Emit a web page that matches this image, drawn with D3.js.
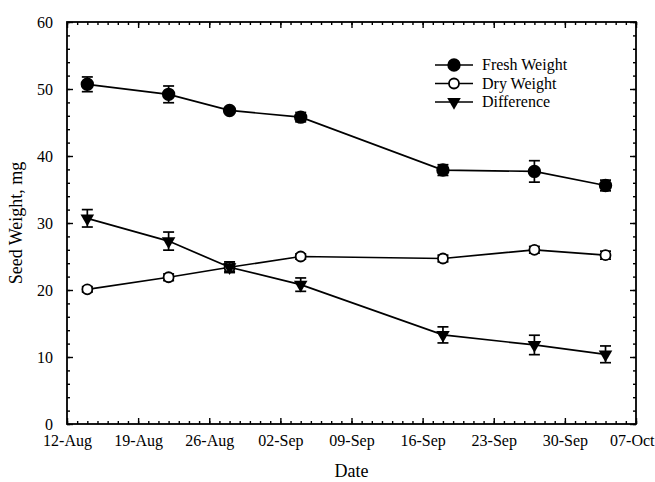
<!DOCTYPE html>
<html>
<head>
<meta charset="utf-8">
<script src="https://cdn.jsdelivr.net/npm/d3@7"></script>
<style>
  body { margin: 0; background: #fff; }
  svg text { font-family: "Liberation Serif", "DejaVu Serif", serif !important; fill: #000; }
</style>
</head>
<body>
<svg id="chart" width="655" height="482"></svg>
<script>
// sample dates and seed weights (mg)
var dates    = [ "2001-08-14", "2001-08-22", "2001-08-28", "2001-09-04", "2001-09-18", "2001-09-27", "2001-10-04" ];
var fresh    = [ 50.7, 49.2, 46.8, 45.8, 37.9, 37.7, 35.6 ];
var freshErr = [ 1.1, 1.25, 0.4, 0.7, 0.8, 1.6, 0.8 ];
var dry      = [ 20.1, 21.9, 23.4, 25.0, 24.7, 26.0, 25.2 ];
var dryErr   = [ 0.4, 0.5, 0.6, 0.4, 0.5, 0.5, 0.6 ];
var diff     = [ 30.7, 27.3, 23.4, 20.8, 13.3, 11.8, 10.4 ];
var diffErr  = [ 1.3, 1.35, 0.8, 1.0, 1.2, 1.45, 1.25 ];
var seriesNames = [ "Fresh Weight", "Dry Weight", "Difference" ];
var xStart = "2001-08-12", xEnd = "2001-10-07";
var yTicks = [ 0, 10, 20, 30, 40, 50, 60 ];

window.addEventListener( "load", makeChart );
function makeChart() {
    var parse = d3.timeParse( "%Y-%m-%d" );
    var fmt = d3.timeFormat( "%d-%b" );
    var t0 = parse( xStart ), t1 = parse( xEnd );

    var L = 67, R = 636, T = 22, B = 424;
    var x = d3.scaleTime().domain( [t0, t1] ).range( [L, R] );
    var y = d3.scaleLinear().domain( [0, 60] ).range( [B, T] );

    var svg = d3.select( "#chart" );

    var major = d3.range( 0, 57, 7 ).map( d=>d3.timeDay.offset(t0, d) );
    var minor = d3.timeDay.range( t0, d3.timeDay.offset(t1, 1) );
    var yMinor = d3.range( 0, 61, 2 );

    // inward ticks on all four sides
    function ticks( axis, tr ) {
        var g = svg.append( "g" ).attr( "transform", tr ).call( axis )
            .attr( "font-family", "Liberation Serif" ).attr( "font-size", 16 );
        g.select( ".domain" ).remove();
        g.selectAll( "line" ).attr( "stroke", "#000" ).attr( "stroke-width", 1.4 );
        return g;
    }
    ticks( d3.axisBottom(x).tickValues(minor).tickSize(-3).tickFormat(""), "translate(0,"+B+")" );
    ticks( d3.axisTop(x).tickValues(minor).tickSize(-3).tickFormat(""), "translate(0,"+T+")" );
    ticks( d3.axisTop(x).tickValues(major).tickSize(-6).tickFormat(""), "translate(0,"+T+")" );
    var xa = ticks( d3.axisBottom(x).tickValues(major).tickSize(-6).tickFormat(fmt).tickPadding(11),
                    "translate(0,"+B+")" );
    // last label would run off the edge; keep it inside like the original
    xa.selectAll( "text" ).filter( (d,i,n)=>i == n.length-1 )
        .attr( "text-anchor", "end" ).attr( "dx", 18 );

    ticks( d3.axisLeft(y).tickValues(yMinor).tickSize(-3).tickFormat(""), "translate("+L+",0)" );
    ticks( d3.axisRight(y).tickValues(yMinor).tickSize(-3).tickFormat(""), "translate("+R+",0)" );
    ticks( d3.axisRight(y).tickValues(yTicks).tickSize(-6).tickFormat(""), "translate("+R+",0)" );
    ticks( d3.axisLeft(y).tickValues(yTicks).tickSize(-6).tickPadding(14), "translate("+L+",0)" );

    svg.append( "rect" ).attr( "x", L ).attr( "y", T )
        .attr( "width", R-L ).attr( "height", B-T )
        .attr( "fill", "none" ).attr( "stroke", "#000" ).attr( "stroke-width", 1.8 );

    // axis titles
    svg.append( "text" ).attr( "x", (L+R)/2 ).attr( "y", 477 )
        .attr( "text-anchor", "middle" ).attr( "font-size", 18 ).text( "Date" );
    svg.append( "text" )
        .attr( "transform", "translate(22,"+((T+B)/2)+") rotate(-90)" )
        .attr( "text-anchor", "middle" ).attr( "font-size", 18 ).text( "Seed Weight, mg" );

    var tri = d3.symbol().type( d3.symbolTriangle ).size( 80 );
    var series = [
        { name: seriesNames[0], vals: fresh, err: freshErr, kind: "filled" },
        { name: seriesNames[1], vals: dry,   err: dryErr,   kind: "open" },
        { name: seriesNames[2], vals: diff,  err: diffErr,  kind: "tri" }
    ];

    function marker( g, kind ) {
        if( kind == "tri" )
            g.append( "path" ).attr( "d", tri ).attr( "transform", "rotate(180)" ).attr( "fill", "#000" );
        else
            g.append( "circle" ).attr( "r", kind == "open" ? 5 : 5.8 )
                .attr( "fill", kind == "open" ? "#fff" : "#000" )
                .attr( "stroke", "#000" ).attr( "stroke-width", 1.8 );
    }

    var line = d3.line().x( d=>x(d.t) ).y( d=>y(d.v) );

    series.forEach( function(s) {
        var pts = s.vals.map( (v,i)=>({ t: parse(dates[i]), v: v, e: s.err[i] }) );
        var g = svg.append( "g" );

        g.append( "path" ).datum( pts ).attr( "d", line )
            .attr( "fill", "none" ).attr( "stroke", "#000" ).attr( "stroke-width", 1.7 );

        var eb = g.selectAll( "g.eb" ).data( pts ).enter().append( "g" )
            .attr( "stroke", "#000" ).attr( "stroke-width", 1.7 );
        eb.append( "line" ).attr( "x1", d=>x(d.t) ).attr( "x2", d=>x(d.t) )
            .attr( "y1", d=>y(d.v-d.e) ).attr( "y2", d=>y(d.v+d.e) );
        eb.append( "line" ).attr( "x1", d=>x(d.t)-5.5 ).attr( "x2", d=>x(d.t)+5.5 )
            .attr( "y1", d=>y(d.v+d.e) ).attr( "y2", d=>y(d.v+d.e) );
        eb.append( "line" ).attr( "x1", d=>x(d.t)-5.5 ).attr( "x2", d=>x(d.t)+5.5 )
            .attr( "y1", d=>y(d.v-d.e) ).attr( "y2", d=>y(d.v-d.e) );

        g.selectAll( "g.mk" ).data( pts ).enter().append( "g" )
            .attr( "transform", d=>"translate("+x(d.t)+","+y(d.v)+")" )
            .each( function() { marker( d3.select(this), s.kind ); } );
    } );

    // legend
    var lg = svg.append( "g" ).attr( "transform", "translate(435,65)" );
    series.forEach( function(s, i) {
        var r = lg.append( "g" ).attr( "transform", "translate(0,"+(i*18.5)+")" );
        r.append( "line" ).attr( "x1", 0 ).attr( "x2", 38 )
            .attr( "stroke", "#000" ).attr( "stroke-width", 1.7 );
        marker( r.append( "g" ).attr( "transform", "translate(19,0)" ), s.kind );
        r.append( "text" ).attr( "x", 47 ).attr( "y", 5 )
            .attr( "font-size", 16 ).text( s.name );
    } );
}
</script>
</body>
</html>
